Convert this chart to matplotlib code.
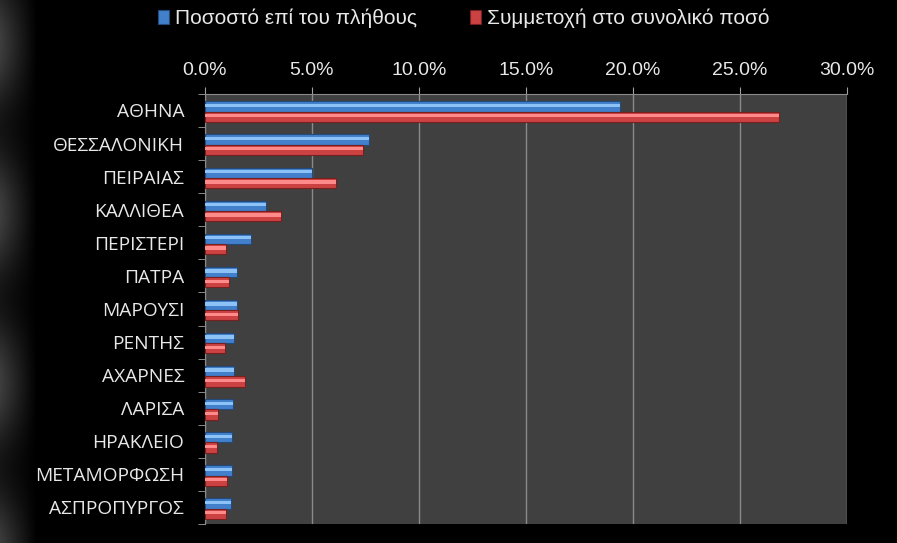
import numpy as np
import matplotlib
matplotlib.use("Agg")
from matplotlib import pyplot as plt
from matplotlib.ticker import PercentFormatter, FixedLocator

cities = ['ΑΘΗΝΑ', 'ΘΕΣΣΑΛΟΝΙΚΗ', 'ΠΕΙΡΑΙΑΣ', 'ΚΑΛΛΙΘΕΑ', 'ΠΕΡΙΣΤΕΡΙ', 'ΠΑΤΡΑ',
          'ΜΑΡΟΥΣΙ', 'ΡΕΝΤΗΣ', 'ΑΧΑΡΝΕΣ', 'ΛΑΡΙΣΑ', 'ΗΡΑΚΛΕΙΟ', 'ΜΕΤΑΜΟΡΦΩΣΗ',
          'ΑΣΠΡΟΠΥΡΓΟΣ']
share_count = [19.4, 7.65, 5.0, 2.85, 2.15, 1.5, 1.5, 1.35, 1.35, 1.3, 1.25, 1.25, 1.2]
share_amount = [26.8, 7.4, 6.1, 3.55, 1.0, 1.1, 1.55, 0.95, 1.85, 0.6, 0.55, 1.05, 1.0]
series_names = ['Ποσοστό επί του πλήθους', 'Συμμετοχή στο συνολικό ποσό']

sans = ['Liberation Sans', 'DejaVu Sans']
plt.rcParams['font.family'] = ['Open Sans', 'DejaVu Sans']

fig = plt.figure(figsize=(8.97, 5.43), dpi=100, facecolor='black')

# faint grey streaks on the left edge of the slide background
bg = fig.add_axes([0, 0, 1, 1], zorder=-10)
xs = np.linspace(0, 1, 400)
ys = np.linspace(0, 1, 200)
X, Y = np.meshgrid(xs, ys)
shade = np.clip(1 - X / 0.04, 0, 1) * (0.16 + 0.08 * np.sin(Y * 20))
bg.imshow(shade, cmap='gray', vmin=0, vmax=1, aspect='auto', extent=[0, 1, 0, 1])
bg.axis('off')

ax = fig.add_axes([0.2285, 0.035, 0.7158, 0.792])
ax.set_facecolor('#404040')

y = np.arange(len(cities))
h = 0.31
blue_y = y - 0.12
red_y = y + 0.19

# base bars
ax.barh(blue_y, share_count, height=h, color='#4280cc', edgecolor='#234a7a', linewidth=0.8, zorder=3,
        label=series_names[0])
ax.barh(red_y, share_amount, height=h, color='#cc4242', edgecolor='#7a1f1f', linewidth=0.8, zorder=3,
        label=series_names[1])
# bevel highlights
ax.barh(blue_y - h * 0.1, share_count, height=h * 0.32, color='#8cc2f5', linewidth=0, zorder=4)
ax.barh(red_y - h * 0.1, share_amount, height=h * 0.32, color='#ff8a8a', linewidth=0, zorder=4)

ax.set_xlim(0, 30)
ax.set_ylim(len(cities) - 0.5, -0.5)
ax.xaxis.tick_top()
ax.set_xticks(np.arange(0, 31, 5))
ax.xaxis.set_major_formatter(PercentFormatter(decimals=1))
ax.tick_params(axis='x', colors='#a0a0a0', labelcolor='#e8e8e8', length=5, pad=6, labelsize=14)
for lab in ax.get_xticklabels():
    lab.set_family(sans)
ax.grid(axis='x', color='#8a8a8a', linewidth=1, zorder=1)

ax.set_yticks(y)
ax.set_yticklabels(cities)
ax.tick_params(axis='y', which='major', length=0, pad=15, labelcolor='#e8e8e8', labelsize=13.8)
ax.yaxis.set_minor_locator(FixedLocator(np.arange(-0.5, len(cities), 1)))
ax.tick_params(axis='y', which='minor', length=5, color='#a0a0a0')

for side in ['right', 'bottom']:
    ax.spines[side].set_visible(False)
ax.spines['top'].set_color('#8a8a8a')
ax.spines['left'].set_color('#8a8a8a')

handles, labels = ax.get_legend_handles_labels()
leg = fig.legend(handles[:2], labels[:2], loc='center', bbox_to_anchor=(0.517, 0.966), ncol=2,
                 frameon=False, handlelength=0.55, handleheight=0.7, handletextpad=0.3,
                 columnspacing=2.5, prop={'family': sans, 'size': 15})
for t in leg.get_texts():
    t.set_color('#e8e8e8')

fig.savefig('out.png', dpi=100, facecolor='black')
